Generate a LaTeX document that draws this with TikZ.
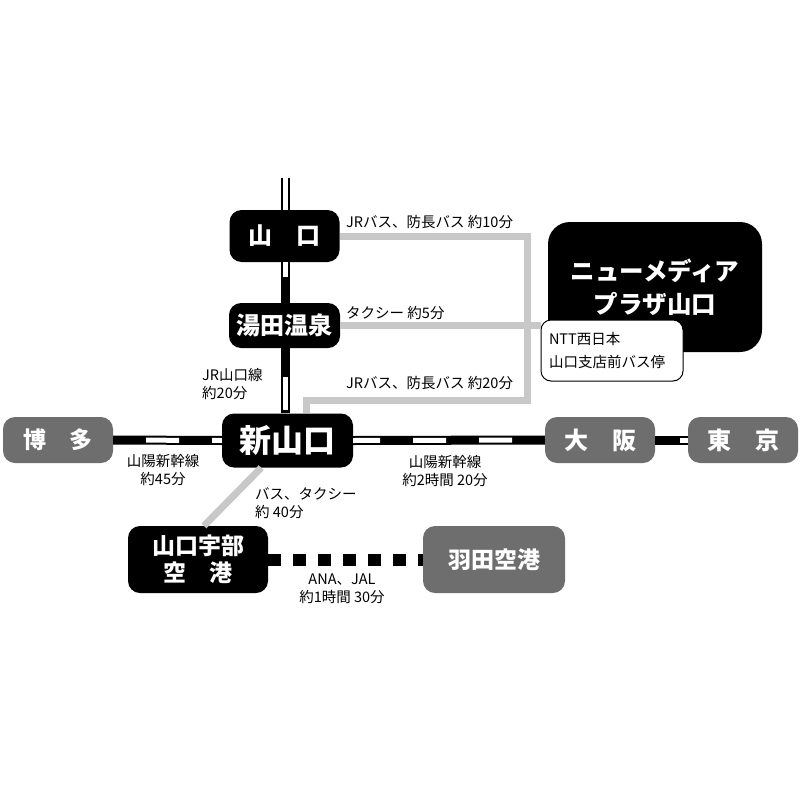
\documentclass[tikz,border=0pt]{standalone}
\usepackage{fontspec}
\setmainfont{Noto Sans CJK JP}
\usetikzlibrary{calc}
\definecolor{boxgray}{HTML}{6E6E6E}
\definecolor{routegray}{HTML}{C8C8C8}
\tikzstyle{stationblack}=[rounded corners=12pt, fill=black, text=white, inner sep=0pt, align=center, font=\bfseries\fontsize{24}{27}\selectfont]
\tikzstyle{stationgray}=[rounded corners=12pt, fill=boxgray, text=white, inner sep=0pt, align=center, font=\bfseries\fontsize{24}{27}\selectfont]
\tikzstyle{stopbox}=[rounded corners=10pt, draw=black, line width=1pt, fill=white, inner sep=0pt, align=left, font=\fontsize{14.5}{23}\selectfont]
\tikzstyle{note}=[inner sep=0pt, align=center, font=\fontsize{14.5}{18.5}\selectfont]
\tikzstyle{railbase}=[line width=9pt, black]
\tikzstyle{railwhite}=[line width=5pt, white, dash pattern=on 33pt off 33pt]
\tikzstyle{busroute}=[line width=7pt, routegray]
\tikzstyle{flight}=[line width=12pt, black, dash pattern=on 13pt off 12pt]

\begin{document}
\begin{tikzpicture}[x=1pt, y=-1pt]
		   \useasboundingbox (0,0) rectangle (800,800);
		   \begin{scope}
			   \node (yama) at (284.5, 236) [stationblack, minimum width=110pt, minimum height=52pt] {山　口};
			   \node (yuda) at (284.5, 325.5) [stationblack, minimum width=111pt, minimum height=45pt] {湯田温泉};
			   \node (shin) at (287.5, 440.5) [stationblack, minimum width=131pt, minimum height=54pt, font=\bfseries\fontsize{32}{34}\selectfont] {新山口};
			   \node (hakata) at (58, 440) [stationgray, minimum width=110pt, minimum height=46pt, font=\bfseries\fontsize{23}{26}\selectfont] {博　多};
			   \node (osaka) at (600, 440) [stationgray, minimum width=110pt, minimum height=46pt] {大　阪};
			   \node (tokyo) at (743, 440) [stationgray, minimum width=110pt, minimum height=46pt] {東　京};
			   \node (ube) at (198, 559.5) [stationblack, minimum width=140pt, minimum height=67pt, font=\bfseries\fontsize{23}{27}\selectfont] {山口宇部\\空　港};
			   \node (haneda) at (494, 559.5) [stationgray, minimum width=142pt, minimum height=67pt, font=\bfseries\fontsize{23}{26}\selectfont] {羽田空港};
			   \node (plaza) at (655, 287) [stationblack, rounded corners=22pt, minimum width=214pt, minimum height=130pt, font=\bfseries\fontsize{24.5}{33}\selectfont] {ニューメディア\\プラザ山口};
			   \node (ntt) at (612, 350.5) [stopbox, minimum width=142pt, minimum height=61pt, text width=126pt] {NTT西日本\\山口支店前バス停};

			   \coordinate (railtop) at (285.5, 178);
			   \coordinate (turnB) at (527, 400);
			   \coordinate (drop) at (306, 400);
			   \coordinate (shinfoot) at ($(shin.south west)!0.3!(shin.south east)$);
			   \coordinate (ubehead) at ($(ube.north)+(6,0)$);

			   \node (l1) at (346, 222) [note, anchor=west] {JRバス、防長バス 約10分};
			   \node (l2) at (346, 313) [note, anchor=west] {タクシー 約5分};
			   \node (l3) at (346, 383) [note, anchor=west] {JRバス、防長バス 約20分};
			   \node (l4) at (202, 384) [note, anchor=west, align=left] {JR山口線\\約20分};
			   \node (l5) at (163, 470) [note] {山陽新幹線\\約45分};
			   \node (l6) at (445, 471) [note] {山陽新幹線\\約2時間 20分};
			   \node (l7) at (255, 503) [note, anchor=west, align=left] {バス、タクシー\\約 40分};
			   \node (l8) at (342, 589) [note] {ANA、JAL\\約1時間 30分};
		   \end{scope}
		   \begin{scope}
			   \draw [railbase] (railtop) -- (railtop |- yama.north);
			   \draw [railwhite] (railtop) -- (railtop |- yama.north);
			   \draw [railbase] (railtop |- yama.south) -- (railtop |- yuda.north);
			   \draw [railwhite, dash phase=18pt] (railtop |- yama.south) -- (railtop |- yuda.north);
			   \draw [railbase] (railtop |- yuda.south) -- (railtop |- shin.north);
			   \draw [railwhite, dash phase=37pt] (railtop |- yuda.south) -- (railtop |- shin.north);

			   \draw [railbase] (hakata.east) -- (shin.west);
			   \draw [railwhite, dash phase=33pt] (hakata.east) -- (shin.west);
			   \draw [railbase] (shin.east) -- (osaka.west);
			   \draw [railwhite, dash phase=6pt] (shin.east) -- (osaka.west);
			   \draw [railbase] (osaka.east) -- (tokyo.west);
			   \draw [railwhite, dash phase=41pt] (osaka.east) -- (tokyo.west);

			   \draw [busroute] (yama.east) -| (turnB) -- (drop) -- (drop |- shin.north);
			   \draw [busroute] (yuda.east) -- (yuda.east -| ntt.west);
			   \draw [busroute] (shinfoot) -- (ubehead);

			   \draw [flight] (ube.east) -- (haneda.west);
		   \end{scope}
\end{tikzpicture}
\end{document}
